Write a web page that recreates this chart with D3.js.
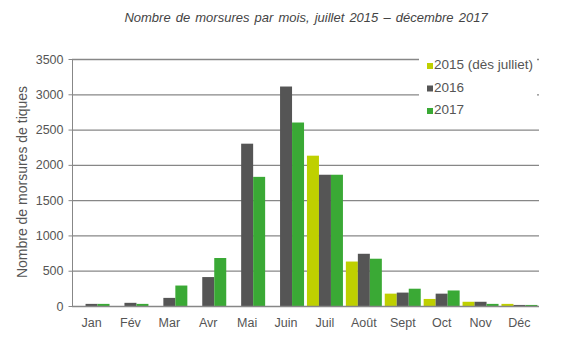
<!DOCTYPE html>
<html><head><meta charset="utf-8">
<script src="https://cdn.jsdelivr.net/npm/d3@7"></script>
<style>body{margin:0;background:#fff}svg{display:block;font-family:"Liberation Sans",Arial,sans-serif}</style>
</head><body><svg id="c" width="572" height="343"></svg>
<script>
const months = ["Jan","Fév","Mar","Avr","Mai","Juin","Juil","Août","Sept","Oct","Nov","Déc"];
const seriesNames = ["2015 (dès julliet)","2016","2017"];
const v2015 = [null,null,null,null,null,null,2130,630,175,100,60,30];
const v2016 = [30,45,115,410,2300,3110,1860,740,190,175,60,15];
const v2017 = [30,30,290,680,1830,2600,1860,670,245,220,30,15];
const yTicks = [0,500,1000,1500,2000,2500,3000,3500];
const colors = ["#bfd000","#555555","#3aa935"];

const svg = d3.select("#c");
const m = {l:72, r:539, t:59, b:306};
const x = d3.scaleBand().domain(months).range([m.l,m.r]).paddingInner(0.075).paddingOuter(0.04);
const xs = d3.scaleBand().domain(seriesNames).range([0,x.bandwidth()]);
const y = d3.scaleLinear().domain([0,3500]).range([m.b,m.t]);

// gridlines
svg.append("g").selectAll("line").data(yTicks.slice(1)).join("line")
  .attr("x1",m.l).attr("x2",m.r).attr("y1",d=>y(d)+0.5).attr("y2",d=>y(d)+0.5)
  .attr("stroke","#878787").attr("stroke-width",1.3);

// y axis
const ya = svg.append("g").attr("transform",`translate(${m.l+0.5},0)`)
  .call(d3.axisLeft(y).tickValues(yTicks).tickSize(4).tickPadding(5).tickFormat(d3.format("d")));
ya.select(".domain").attr("stroke","#878787").attr("d",`M0,${m.t}V${m.b}`);
ya.selectAll(".tick line").attr("stroke","#878787");
ya.selectAll("text").attr("fill","#555").style("font-size","12.5px");

// bars
const data = [v2015,v2016,v2017];
data.forEach((vals,si)=>{
  svg.append("g").selectAll("rect").data(months.map((mo,i)=>({mo,v:vals[i]})).filter(d=>d.v!=null)).join("rect")
    .attr("x",d=>x(d.mo)+xs(seriesNames[si]))
    .attr("width",xs.bandwidth())
    .attr("y",d=>y(d.v)).attr("height",d=>m.b-y(d.v))
    .attr("fill",colors[si]);
});

// baseline
svg.append("line").attr("x1",m.l).attr("x2",m.r).attr("y1",m.b+0.5).attr("y2",m.b+0.5)
  .attr("stroke","#878787").attr("stroke-width",1.3);

// x labels
svg.append("g").selectAll("text").data(months).join("text")
  .attr("x",d=>x(d)+x.bandwidth()/2).attr("y",327)
  .attr("text-anchor","middle").attr("fill","#555").style("font-size","12.5px").text(d=>d);

// y title
svg.append("text").attr("transform","translate(27,182) rotate(-90)").attr("text-anchor","middle")
  .attr("fill","#555").style("font-size","14px").text("Nombre de morsures de tiques");

// title
svg.append("text").attr("x",306).attr("y",22).attr("text-anchor","middle")
  .attr("fill","#444").style("font-size","13px").style("font-style","italic").style("word-spacing","1.5px")
  .text("Nombre de morsures par mois, juillet 2015 – décembre 2017");

// legend
svg.append("rect").attr("x",419).attr("y",50).attr("width",118).attr("height",72).attr("fill","#fff");
const lg = svg.append("g").selectAll("g").data(seriesNames).join("g")
  .attr("transform",(d,i)=>`translate(427,${69+i*22.5})`);
lg.append("rect").attr("x",0).attr("y",-6).attr("width",6).attr("height",6).attr("fill",(d,i)=>colors[i]);
lg.append("text").attr("x",7).attr("y",0).attr("fill","#555").style("font-size","13.5px").text(d=>d);
</script></body></html>
